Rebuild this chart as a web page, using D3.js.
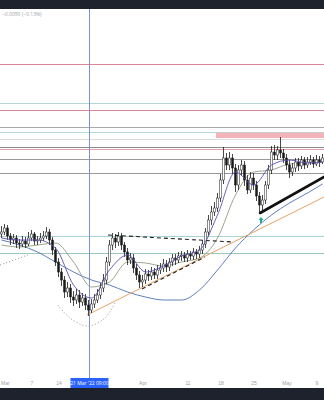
<!DOCTYPE html>
<html>
<head>
<meta charset="utf-8">
<script src="https://cdn.jsdelivr.net/npm/d3@7"></script>
<style>
  html, body { margin: 0; padding: 0; background: #fff; }
  svg { display: block; font-family: "Open Sans", sans-serif; }
</style>
</head>
<body>
<svg id="svg1" width="324" height="400"></svg>
<script>
"use strict";

// candle data, one bar per period (open = previous close)
const firstOpen = 3.666;
const closes = [3.668,3.672,3.664,3.660,3.662,3.657,3.656,3.659,3.656,3.662,
  3.666,3.659,3.660,3.662,3.664,3.668,3.660,3.650,3.638,3.628,
  3.620,3.608,3.612,3.603,3.600,3.605,3.598,3.602,3.595,3.590,
  3.596,3.600,3.605,3.612,3.620,3.638,3.655,3.662,3.658,3.664,
  3.655,3.648,3.640,3.642,3.632,3.625,3.618,3.620,3.626,3.624,
  3.628,3.625,3.630,3.632,3.636,3.633,3.638,3.642,3.640,3.644,
  3.645,3.642,3.646,3.644,3.648,3.646,3.650,3.656,3.668,3.680,
  3.688,3.692,3.702,3.720,3.742,3.735,3.742,3.732,3.715,3.730,
  3.735,3.720,3.710,3.722,3.715,3.704,3.695,3.700,3.715,3.730,
  3.748,3.745,3.750,3.747,3.742,3.735,3.728,3.732,3.738,3.734,
  3.740,3.735,3.738,3.740,3.736,3.740,3.738,3.742];
const highs = [3.674,3.676,3.675,3.667,3.666,3.665,3.661,3.664,3.663,3.668,
  3.670,3.668,3.664,3.667,3.669,3.673,3.671,3.663,3.653,3.642,
  3.632,3.624,3.618,3.616,3.609,3.611,3.610,3.607,3.606,3.600,
  3.601,3.606,3.611,3.617,3.626,3.643,3.660,3.667,3.666,3.668,
  3.667,3.658,3.652,3.647,3.646,3.636,3.629,3.625,3.631,3.630,
  3.633,3.632,3.635,3.637,3.641,3.640,3.642,3.646,3.646,3.648,
  3.649,3.648,3.650,3.649,3.652,3.651,3.654,3.660,3.672,3.685,
  3.694,3.698,3.707,3.726,3.753,3.747,3.748,3.746,3.736,3.735,
  3.740,3.739,3.725,3.728,3.727,3.719,3.708,3.705,3.719,3.735,
  3.754,3.755,3.754,3.763,3.751,3.746,3.740,3.737,3.742,3.742,
  3.744,3.743,3.743,3.745,3.743,3.745,3.744,3.746];
const lows = [3.662,3.665,3.660,3.655,3.656,3.652,3.651,3.653,3.652,3.654,
  3.659,3.655,3.655,3.657,3.659,3.661,3.655,3.645,3.634,3.623,
  3.614,3.602,3.603,3.597,3.594,3.596,3.592,3.594,3.590,3.584,
  3.587,3.592,3.597,3.601,3.608,3.616,3.634,3.650,3.652,3.654,
  3.650,3.643,3.635,3.636,3.627,3.620,3.612,3.613,3.616,3.619,
  3.620,3.621,3.621,3.626,3.628,3.628,3.629,3.634,3.635,3.637,
  3.639,3.638,3.638,3.640,3.640,3.641,3.642,3.646,3.652,3.664,
  3.675,3.684,3.688,3.698,3.716,3.730,3.730,3.726,3.708,3.710,
  3.724,3.714,3.706,3.707,3.710,3.699,3.688,3.690,3.696,3.711,
  3.726,3.740,3.740,3.742,3.737,3.730,3.722,3.724,3.728,3.729,
  3.731,3.731,3.732,3.735,3.732,3.734,3.733,3.736];

// moving averages, read at every sixth bar
const maIdx = [0,6,12,18,24,30,36,42,48,54,60,66,72,78,84,90,96,102,107];
const maFast = [3.662,3.660,3.660,3.652,3.615,3.602,3.630,3.645,3.628,3.634,3.644,3.650,3.685,3.728,3.715,3.735,3.740,3.737,3.738];
const maSlow = [3.655,3.653,3.655,3.657,3.638,3.613,3.618,3.638,3.637,3.634,3.638,3.642,3.662,3.705,3.728,3.730,3.736,3.737,3.738];
const maLong = [3.660,3.655,3.648,3.638,3.628,3.620,3.615,3.608,3.603,3.600,3.600,3.610,3.630,3.652,3.670,3.685,3.697,3.707,3.716];

// horizontal levels
const levels = [3.836,3.797,3.790,3.773,3.768,3.761,3.753,3.751,3.741,3.727,3.664,3.647];
const levelColors = ["#d98592","#b5d6d6","#d98592","#a9a9a9","#b5d6d6","#dcdcdc","#8c8c8c","#e2a3ad","#9a9a9a","#9a9a9a","#a9d2d0","#9cc8bf"];
const zone = {from: 71.5, top: 3.7673, bottom: 3.762};

// drawings
const orangeLine = [[28.5, 3.585], [107.5, 3.703]];
const neckline = [[35.5, 3.665], [77.3, 3.658]];
const supportLine = [[46.8, 3.611], [67.8, 3.643]];
const thickLine = [[86.2, 3.687], [107.5, 3.723]];
const arcLow = [[18.8, 3.595], [22.8, 3.582], [28.8, 3.574], [34.5, 3.582], [37.8, 3.597]];
const arcLeft = [[-0.5, 3.635], [8.8, 3.645]];
const arrowAt = [86.5, 3.680];
const crossIdx = 29.2;

// axis labels
const tickIdx = [0, 10, 19, 47, 62, 73, 84, 95, 105];
const tickText = ["Mar", "7", "14", "Apr", "11", "18", "25", "May", "9"];
const crossLabel = "21 Mar '22  09:00";
const headerText = "\u22120.0050 (\u22120.13%)";

let svg = d3.select("#svg1");
let width = 324, height = 400;
let plotTop = 9, plotBottom = 388;

let x = d3.scaleLinear().domain([-0.5, closes.length - 0.5]).range([0, width]);
let y = d3.scaleLinear().domain([3.512, 3.891]).range([plotBottom, plotTop]);

// dark bars at top and bottom
svg.append("rect").attr("x", 0).attr("y", 0).attr("width", width).attr("height", plotTop).attr("fill", "#1e222d");
svg.append("rect").attr("x", 0).attr("y", plotBottom).attr("width", width).attr("height", height - plotBottom).attr("fill", "#1e222d");

// levels
svg.append("g").selectAll("line")
  .data(levels)
  .enter().append("line")
    .attr("x1", 0).attr("x2", width)
    .attr("y1", d => Math.round(y(d)) + 0.5)
    .attr("y2", d => Math.round(y(d)) + 0.5)
    .attr("stroke", (d, i) => levelColors[i])
    .attr("stroke-width", 1);

svg.append("rect")
  .attr("x", x(zone.from))
  .attr("y", y(zone.top))
  .attr("width", width - x(zone.from))
  .attr("height", y(zone.bottom) - y(zone.top))
  .attr("fill", "#f4b3b9");

// crosshair
let cx = Math.round(x(crossIdx)) + 0.5;
svg.append("line")
  .attr("x1", cx).attr("x2", cx)
  .attr("y1", plotTop).attr("y2", 379)
  .attr("stroke", "#7b93cf").attr("stroke-width", 1);

// moving averages
let maLine = d3.line().x((d, i) => x(maIdx[i])).y(d => y(d)).curve(d3.curveMonotoneX);
svg.append("path").datum(maLong).attr("d", maLine).attr("fill", "none").attr("stroke", "#4d6fb8").attr("stroke-width", 0.9);
svg.append("path").datum(maSlow).attr("d", maLine).attr("fill", "none").attr("stroke", "#8f9c84").attr("stroke-width", 0.9);

// orange trend line
let segLine = d3.line().x(d => x(d[0])).y(d => y(d[1]));
svg.append("path").datum(orangeLine).attr("d", segLine).attr("fill", "none").attr("stroke", "#e8a166").attr("stroke-width", 1);

// dotted arcs
let arcLine = d3.line().x(d => x(d[0])).y(d => y(d[1])).curve(d3.curveCatmullRom);
[arcLow, arcLeft].forEach(a => {
  svg.append("path").datum(a).attr("d", arcLine).attr("fill", "none")
    .attr("stroke", "#8a8a8a").attr("stroke-width", 0.8).attr("stroke-dasharray", "1.2,2");
});

// candles
let bars = closes.map((c, i) => ({
  i: i, o: i === 0 ? firstOpen : closes[i - 1], c: c, h: highs[i], l: lows[i]
}));
let cg = svg.append("g");
cg.selectAll(".wick")
  .data(bars)
  .enter().append("line")
    .attr("class", "wick")
    .attr("x1", d => x(d.i)).attr("x2", d => x(d.i))
    .attr("y1", d => y(d.h)).attr("y2", d => y(d.l))
    .attr("stroke", "#1a1a1a").attr("stroke-width", 0.8);
cg.selectAll(".body")
  .data(bars)
  .enter().append("rect")
    .attr("class", "body")
    .attr("x", d => x(d.i) - 1)
    .attr("width", 2)
    .attr("y", d => y(Math.max(d.o, d.c)))
    .attr("height", d => Math.max(0.8, Math.abs(y(d.o) - y(d.c))))
    .attr("fill", d => d.c >= d.o ? "#ffffff" : "#1a1a1a")
    .attr("stroke", "#1a1a1a").attr("stroke-width", 0.5);

// fast MA over candles
svg.append("path").datum(maFast).attr("d", maLine).attr("fill", "none").attr("stroke", "#5a4fb0").attr("stroke-width", 0.9);

// pattern lines
[neckline, supportLine].forEach(s => {
  svg.append("path").datum(s).attr("d", segLine).attr("fill", "none")
    .attr("stroke", "#222").attr("stroke-width", 1.1).attr("stroke-dasharray", "4,3");
});
svg.append("path").datum(thickLine).attr("d", segLine).attr("fill", "none")
  .attr("stroke", "#111").attr("stroke-width", 2.6).attr("stroke-linecap", "round");

// green arrow
let ax = x(arrowAt[0]), ay = y(arrowAt[1]);
svg.append("path")
  .attr("d", `M${ax},${ay - 3} L${ax + 2.5},${ay} L${ax + 1},${ay} L${ax + 1},${ay + 3} L${ax - 1},${ay + 3} L${ax - 1},${ay} L${ax - 2.5},${ay} Z`)
  .attr("fill", "#26a69a");

// bottom axis
let axisG = svg.append("g")
  .attr("transform", "translate(0,380)")
  .call(d3.axisBottom(x).tickValues(tickIdx).tickSize(0).tickFormat((d, i) => tickText[i]));
axisG.select(".domain").remove();
axisG.selectAll("text")
  .attr("dy", "0.35em").attr("y", 3)
  .style("font-size", "5px").style("fill", "#9a9ea8");
axisG.selectAll(".tick text").filter((d, i) => i === 0).attr("text-anchor", "start").attr("x", -1);

// crosshair date label
svg.append("rect").attr("x", cx - 19).attr("y", 378).attr("width", 38).attr("height", 10).attr("fill", "#2962ff");
svg.append("text").attr("x", cx).attr("y", 383).attr("dy", "0.35em").attr("text-anchor", "middle")
  .style("font-size", "5px").style("fill", "#ffffff").text(crossLabel);

// header text
svg.append("text").attr("x", 2).attr("y", 14).attr("dy", "0.35em")
  .style("font-size", "5px").style("fill", "#9a9ea8").text(headerText);
</script>
</body>
</html>
